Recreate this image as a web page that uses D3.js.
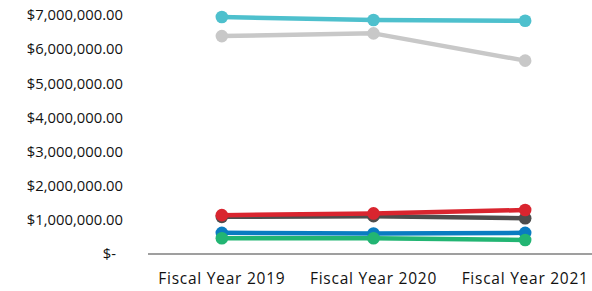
<!DOCTYPE html>
<html><head><meta charset="utf-8">
<script src="https://cdn.jsdelivr.net/npm/d3@7"></script>
<style>body{margin:0;background:#fff}svg{display:block}</style>
</head><body><div id="c"></div>
<script>
const categories = ["Fiscal Year 2019", "Fiscal Year 2020", "Fiscal Year 2021"];
const yTicks = [0, 1000000, 2000000, 3000000, 4000000, 5000000, 6000000, 7000000];
const tealValues = [6950000, 6860000, 6840000];
const lightGrayValues = [6390000, 6470000, 5670000];
const darkGrayValues = [1090000, 1110000, 1050000];
const redValues = [1140000, 1190000, 1290000];
const blueValues = [620000, 600000, 620000];
const greenValues = [460000, 460000, 410000];
const series = [
  {name: "teal", values: tealValues, color: "#4EC0CD"},
  {name: "lightgray", values: lightGrayValues, color: "#C8C8C8"},
  {name: "darkgray", values: darkGrayValues, color: "#4D4D4D"},
  {name: "red", values: redValues, color: "#D9252F"},
  {name: "blue", values: blueValues, color: "#0A7CC1"},
  {name: "green", values: greenValues, color: "#22B573"}
];
const W = 592, H = 291;
const svg = d3.select("#c").append("svg").attr("width", W).attr("height", H);
const x = d3.scaleBand().domain(categories).range([146, 601]);
const y = d3.scaleLinear().domain([0, 7000000]).range([254, 15.3]);
const font = "'Open Sans', sans-serif";
const fmt = v => v === 0 ? "$-" : "$" + d3.format(",.2f")(v);
const yg = svg.append("g");
yg.selectAll("text").data(yTicks).join("text")
  .attr("x", d => d === 0 ? 116 : 123).attr("y", d => y(d) - 1)
  .attr("text-anchor", "end").attr("dominant-baseline", "central")
  .attr("font-family", font).attr("font-size", 14.8).attr("fill", "#111")
  .text(fmt);
svg.append("line").attr("x1", 148).attr("x2", W).attr("y1", y(0)).attr("y2", y(0))
  .attr("stroke", "#7f7f7f").attr("stroke-width", 1.3);
svg.append("g").selectAll("text").data(categories).join("text")
  .attr("x", d => x(d) + x.bandwidth() / 2).attr("y", 278)
  .attr("text-anchor", "middle").attr("dominant-baseline", "central")
  .attr("font-family", font).attr("font-size", 15.5).attr("letter-spacing", 0.75).attr("fill", "#111")
  .text(d => d);
const line = d3.line().x((d, i) => x(categories[i]) + x.bandwidth() / 2).y(d => y(d));
series.forEach(s => {
  const g = svg.append("g");
  g.append("path").attr("d", line(s.values)).attr("fill", "none")
    .attr("stroke", s.color).attr("stroke-width", 4.5).attr("stroke-linejoin", "round");
  g.selectAll("circle").data(s.values).join("circle")
    .attr("cx", (d, i) => x(categories[i]) + x.bandwidth() / 2).attr("cy", d => y(d))
    .attr("r", 6.3).attr("fill", s.color);
});
</script></body></html>
